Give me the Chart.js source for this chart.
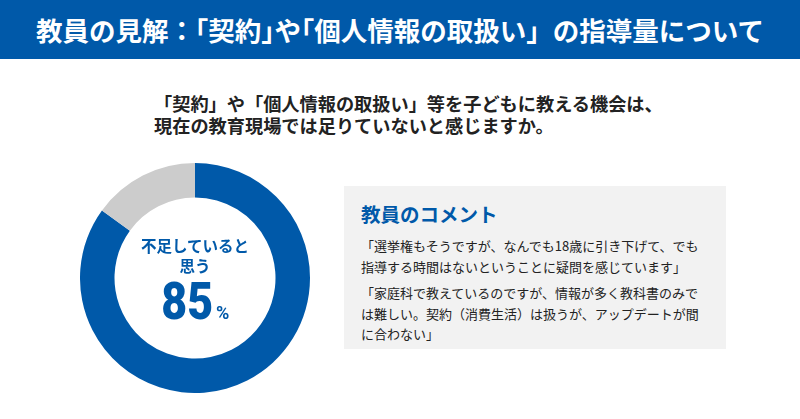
<!DOCTYPE html>
<html lang="ja">
<head>
<meta charset="utf-8">
<script src="https://cdn.jsdelivr.net/npm/chart.js@4"></script>
<style>
  html, body { margin: 0; padding: 0; background: #fff; }
  body { width: 800px; height: 419px; position: relative; overflow: hidden;
         font-family: "Noto Sans CJK JP", "Noto Sans", sans-serif; color: #222; }
  .h { font-feature-settings: "halt"; }
  #header { position: absolute; left: 0; top: 0; width: 800px; height: 59px; background: #0059a9;
            color: #fff; font-weight: 700; font-size: 26.5px; line-height: 59px; text-align: center; white-space: nowrap; }
  .q { position: absolute; left: 154px; font-weight: 700; font-size: 18.2px; line-height: 21px; height: 21px;
       color: #222; white-space: nowrap; }
  #chartWrap { position: absolute; left: 80px; top: 163px; width: 230px; height: 230px; }
  .ct { position: absolute; left: 80px; width: 230px; text-align: center; color: #0059a9; font-weight: 700; white-space: nowrap; }
  .lbl { font-size: 15.5px; line-height: 18px; height: 18px; }
  .num { top: 281px; height: 42px; line-height: 42px; font-family: Roboto, "Noto Sans", sans-serif; }
  .num b { display: inline-block; font-size: 52px; line-height: 42px; transform: scaleX(0.86); margin: 0 -4px 0 -4px; }
  .num span { font-size: 18px; margin-left: 3px; }
  #box { position: absolute; left: 344px; top: 186px; width: 382px; height: 163px; background: #f2f2f2; }
  #box h3 { margin: 0; position: absolute; left: 17px; top: 15px; font-size: 19.5px; line-height: 26px;
            color: #0059a9; font-weight: 700; }
  #box .c { position: absolute; left: 17px; font-size: 13px; line-height: 20.5px; color: #222; white-space: nowrap; }
</style>
</head>
<body>
<div id="header">教員の見解：<span class="h">「</span>契約<span class="h">」</span>や<span class="h">「</span>個人情報の取扱い」の指導量について</div>
<div class="q" style="top:93px">「契約」や「個人情報の取扱い」等を子どもに教える機会は、</div>
<div class="q" style="top:115px">現在の教育現場では足りていないと感じますか。</div>
<div id="chartWrap"><canvas id="c"></canvas></div>
<div class="ct lbl" style="top:236px">不足していると</div>
<div class="ct lbl" style="top:256px">思う</div>
<div class="ct num"><b>85</b><span>%</span></div>
<div id="box">
  <h3>教員のコメント</h3>
  <div class="c" style="top:50px">「選挙権もそうですが、なんでも18歳に引き下げて、でも<br>指導する時間はないということに疑問を感じています」</div>
  <div class="c" style="top:97px">「家庭科で教えているのですが、情報が多く教科書のみで<br>は難しい。契約（消費生活）は扱うが、アップデートが間<br>に合わない」</div>
</div>
<script>
const labels = ["不足していると思う", "その他"];
const values = [85, 15];
const colors = ["#0059a9", "#cccccc"];

new Chart(document.getElementById("c").getContext("2d"), {
  type: "doughnut",
  data: {
    labels: labels,
    datasets: [{
      data: values,
      backgroundColor: colors,
      borderWidth: 0
    }]
  },
  options: {
    responsive: true,
    maintainAspectRatio: false,
    animation: false,
    cutout: "70%",
    plugins: {
      legend: { display: false },
      tooltip: { enabled: false }
    }
  }
});
</script>
</body>
</html>
